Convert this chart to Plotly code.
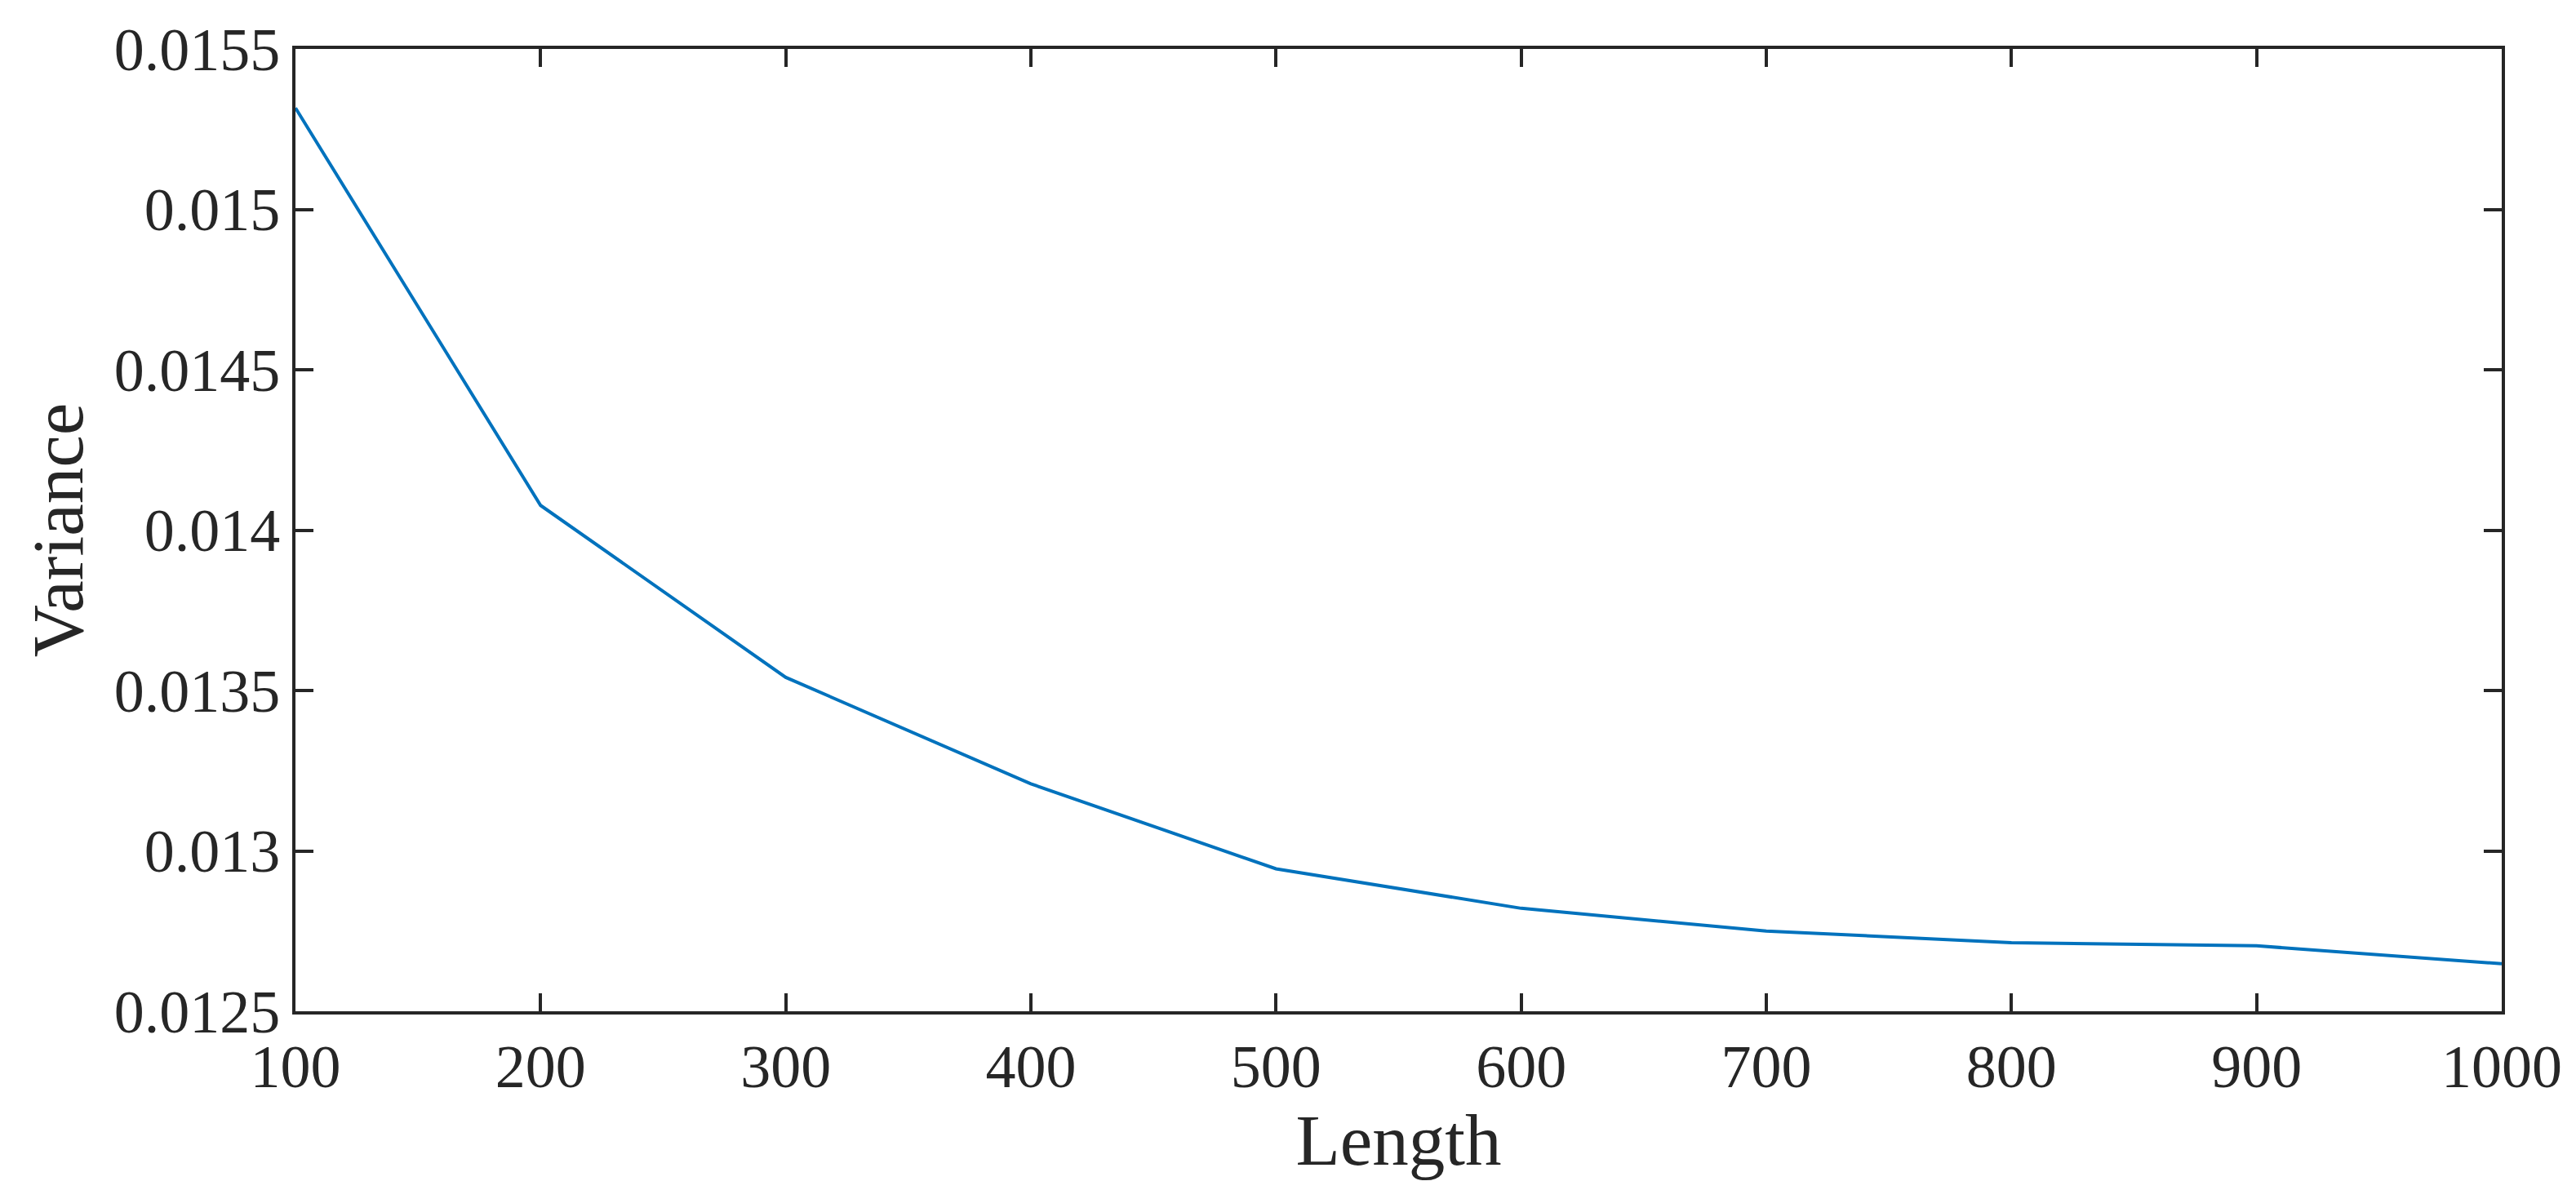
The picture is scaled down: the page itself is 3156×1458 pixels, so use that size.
import plotly.graph_objects as go

lengths = [100, 200, 300, 400, 500, 600, 700, 800, 900, 1000]
variance = [0.015316, 0.014077, 0.013541, 0.013209, 0.012944,
            0.012821, 0.012750, 0.012714, 0.012704, 0.012648]

x_ticks = [100, 200, 300, 400, 500, 600, 700, 800, 900, 1000]
y_ticks = [0.0125, 0.013, 0.0135, 0.014, 0.0145, 0.015, 0.0155]
y_labels = ["0.0125", "0.013", "0.0135", "0.014", "0.0145", "0.015", "0.0155"]

fig = go.Figure(go.Scatter(x=lengths, y=variance, mode="lines",
                           line=dict(color="#0072BD", width=4)))

axis_style = dict(showline=True, linecolor="#262626", linewidth=4, mirror="ticks",
                  ticks="inside", ticklen=22, tickwidth=4, tickcolor="#262626",
                  showgrid=False, zeroline=False)

fig.update_xaxes(range=[100, 1000], tickvals=x_ticks,
                 title=dict(text="Length", standoff=10), **axis_style)
fig.update_yaxes(range=[0.0125, 0.0155], tickvals=y_ticks, ticktext=y_labels,
                 title=dict(text="Variance", standoff=10), **axis_style)

fig.update_layout(
    width=3156, height=1458,
    margin=dict(l=354, r=99, t=48, b=227),
    paper_bgcolor="white", plot_bgcolor="white",
    font=dict(family="Liberation Serif", size=74, color="#262626"),
    showlegend=False,
)

fig.write_html("out.html")
